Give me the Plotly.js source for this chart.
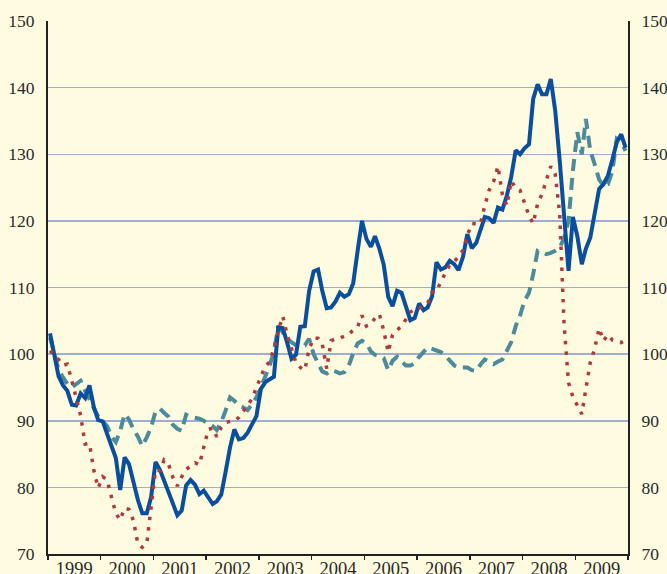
<!DOCTYPE html>
<html>
<head>
<meta charset="utf-8">
<script src="https://cdn.plot.ly/plotly-3.0.1.min.js"></script>
<style>
  html, body { margin: 0; padding: 0; background: #fefbe1; }
  #chart { width: 667px; height: 574px; }
</style>
</head>
<body>
<div id="chart"></div>
<script>
// Monthly index values, January 1999 to December 2009 (one row per year).
const solidSeries = [
  103.1, 99.6, 96.7, 95.3, 94.5, 92.4, 92.3, 94.1, 93.4, 95.3, 92.0, 90.1,
  89.9, 88.0, 86.4, 84.4, 79.6, 84.5, 83.5, 80.7, 78.1, 76.1, 76.1, 78.5,
  83.8, 82.6, 80.9, 79.0, 77.6, 75.8, 76.5, 80.3, 81.1, 80.4, 79.0, 79.5,
  78.5, 77.5, 77.9, 78.9, 82.3, 86.0, 88.7, 87.2, 87.4, 88.2, 89.5, 90.7,
  94.8, 95.8, 96.2, 96.6, 104.0, 103.9, 101.8, 99.3, 99.9, 104.1, 104.2, 109.5,
  112.4, 112.7, 109.5, 106.9, 107.0, 107.9, 109.2, 108.6, 109.0, 110.6, 115.5, 120.0,
  117.3, 116.1, 117.7, 115.8, 113.4, 108.6, 107.2, 109.5, 109.2, 107.4, 105.1, 105.4,
  107.6, 106.6, 107.0, 108.7, 113.8, 112.7, 113.0, 114.0, 113.5, 112.6, 114.6, 118.0,
  115.9, 116.7, 118.6, 120.6, 120.4, 119.7, 122.0, 121.7, 123.8, 126.6, 130.6, 130.0,
  130.9, 131.5, 138.3, 140.5, 139.0, 139.0, 141.3, 136.5, 129.0, 121.0, 112.5, 120.6,
  117.7, 113.5, 115.8, 117.5, 120.8, 124.8, 125.5, 126.8, 129.2, 131.8, 133.0, 131.0
];

const dashedSeries = [
  102.5, 99.8, 97.7, 96.5, 95.5, 95.0, 95.5, 96.0, 94.5, 93.2, 91.7, 90.6,
  89.9, 89.2, 87.6, 86.8, 88.5, 91.0, 90.2, 88.7, 87.6, 86.2, 87.5, 89.0,
  91.4, 91.8, 91.2, 90.6, 89.4, 88.8, 88.5, 90.9, 90.6, 90.5, 90.3, 90.0,
  89.6, 89.2, 88.6, 89.8, 91.5, 93.5, 93.0, 92.3, 92.0, 91.6, 92.5, 93.5,
  95.0, 96.6, 98.2, 100.3, 104.2, 103.3, 102.2, 101.8, 101.3, 101.2, 101.3, 102.3,
  100.0, 98.6, 97.4, 97.1, 97.6, 97.4, 97.1, 97.3, 98.3, 100.1, 101.6, 102.0,
  101.6, 100.4, 99.9, 99.7, 99.4, 97.6, 99.0, 99.6, 99.0, 98.3, 98.3, 98.6,
  99.6, 100.4, 101.0, 100.8, 100.6, 100.3, 99.8, 99.1, 98.3, 98.0, 98.0, 98.0,
  97.6, 97.5, 98.4, 99.2, 98.9, 98.5, 98.9, 99.2, 100.5, 101.8, 104.2, 105.8,
  108.0, 109.2, 112.0, 115.5, 115.3, 115.0, 115.2, 115.5, 116.0, 117.4, 120.0, 127.5,
  133.3, 130.0, 135.3, 130.5, 128.5, 126.2, 125.3, 125.5, 127.5, 132.3, 131.8, 130.5
];

const dottedSeries = [
  100.5, 99.8, 99.2, 98.3, 98.5, 96.0, 93.4, 90.8, 86.5, 86.6, 82.5, 79.9,
  81.6, 81.1, 78.6, 76.1, 75.1, 76.9, 76.7, 75.0, 71.5, 71.0, 71.5, 76.5,
  82.6, 82.5, 84.1, 83.5, 81.5, 80.2, 81.6, 82.7, 83.2, 83.7, 83.4, 86.2,
  88.7, 88.9, 87.6, 89.0, 89.7, 89.9, 90.0, 90.5, 91.5, 92.5, 93.3, 95.0,
  96.5, 98.2, 98.8, 100.8, 103.5, 105.7, 103.0, 100.9, 98.7, 98.0, 97.6, 100.8,
  102.4, 102.4, 101.5, 97.8, 102.0, 102.3, 102.4, 102.7, 103.0, 103.6, 104.1, 105.8,
  104.2, 104.5, 105.4, 106.0, 103.5, 100.3, 102.9, 103.6, 104.2, 105.2, 106.3, 106.8,
  106.9, 107.2, 107.6, 109.3, 109.4, 110.9, 112.2, 113.4, 113.9, 114.6, 115.6, 117.8,
  119.6, 119.6, 119.5, 122.3, 124.6, 125.9, 128.2, 123.9, 122.3, 126.0, 124.9, 124.6,
  122.5, 120.8, 119.6, 122.6, 124.0, 126.2, 128.2, 127.0, 121.0, 104.5, 95.7, 93.6,
  92.3, 91.0, 94.8, 98.8, 100.8, 103.9, 102.0, 102.9, 102.1, 101.9, 101.8, 100.6
];

const startYear = 1999;
const yTicks = [70, 80, 90, 100, 110, 120, 130, 140, 150];

// One mid-month date per value.
function monthDates(n) {
  const out = [];
  for (let i = 0; i < n; i++) {
    const y = startYear + Math.floor(i / 12);
    const m = (i % 12) + 1;
    out.push(y + '-' + String(m).padStart(2, '0') + '-15');
  }
  return out;
}
const months = monthDates(solidSeries.length);

const cream = '#fefbe1';
const yFont = { family: 'Liberation Serif', size: 17.5, color: '#2a2a2a' };
const xFont = { family: 'Liberation Serif', size: 18.5, color: '#2a2a2a' };

const traces = [
  {
    x: months, y: dashedSeries, type: 'scatter', mode: 'lines',
    line: { color: '#4b8b9c', width: 4, dash: '12px,7px' },
    hoverinfo: 'skip'
  },
  {
    x: months, y: solidSeries, type: 'scatter', mode: 'lines',
    line: { color: '#0a4f9f', width: 4 },
    hoverinfo: 'skip'
  },
  {
    x: months, y: dottedSeries, type: 'scatter', mode: 'lines', yaxis: 'y2',
    line: { color: '#b03a3a', width: 3.5, dash: '3.5px,7px' },
    hoverinfo: 'skip'
  }
];

const yRange = [yTicks[0], yTicks[yTicks.length - 1]];

const layout = {
  width: 667,
  height: 574,
  margin: { l: 48, r: 39, t: 21, b: 20, pad: 0 },
  paper_bgcolor: cream,
  plot_bgcolor: cream,
  showlegend: false,
  font: yFont,
  xaxis: {
    type: 'date',
    range: [startYear + '-01-01', (startYear + 11) + '-01-01'],
    tick0: startYear + '-01-01',
    dtick: 'M12',
    tickformat: '%Y',
    ticklabelmode: 'period',
    ticks: 'outside',
    ticklen: 4,
    tickwidth: 1.5,
    tickcolor: '#222',
    ticklabelstandoff: -7,
    showline: true,
    linecolor: '#222',
    linewidth: 2,
    showgrid: false,
    zeroline: false,
    tickfont: xFont,
    fixedrange: true
  },
  yaxis: {
    range: yRange,
    tickvals: yTicks,
    ticks: 'outside',
    ticklen: 8,
    tickcolor: 'rgba(0,0,0,0)',
    showline: true,
    linecolor: '#222',
    linewidth: 2,
    showgrid: true,
    gridcolor: '#a0acd8',
    gridwidth: 1.5,
    zeroline: false,
    tickfont: yFont,
    fixedrange: true
  },
  yaxis2: {
    overlaying: 'y',
    side: 'right',
    range: yRange,
    tickvals: yTicks,
    ticks: 'outside',
    ticklen: 8,
    tickcolor: 'rgba(0,0,0,0)',
    showline: true,
    linecolor: '#222',
    linewidth: 2,
    showgrid: false,
    zeroline: false,
    tickfont: yFont,
    fixedrange: true
  }
};

Plotly.newPlot('chart', traces, layout, { staticPlot: true, displayModeBar: false });
</script>
</body>
</html>
